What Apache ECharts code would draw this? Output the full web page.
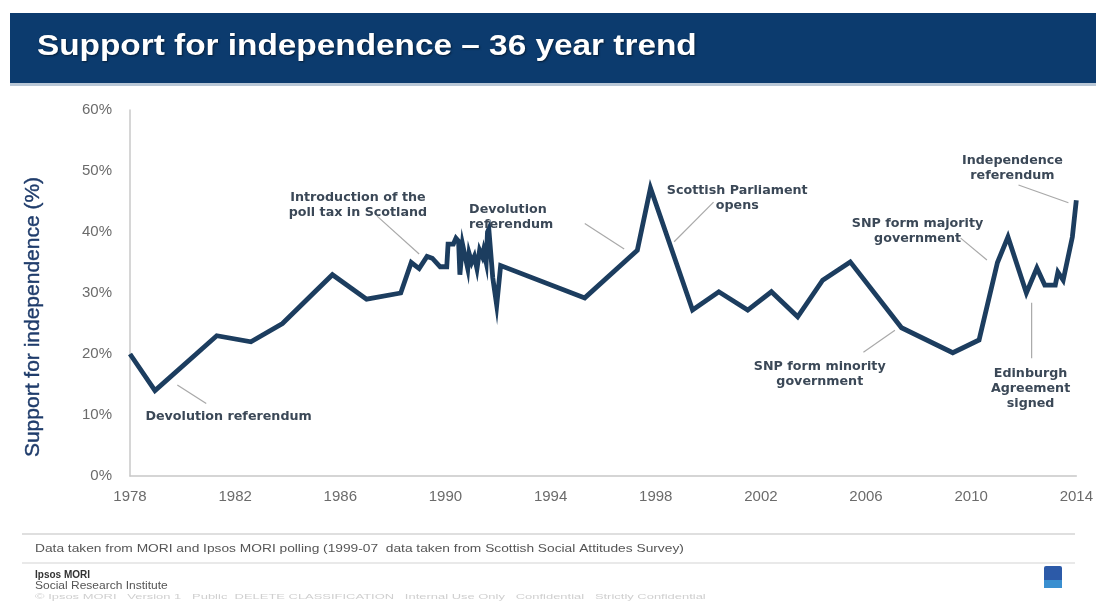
<!DOCTYPE html>
<html>
<head>
<meta charset="utf-8">
<script src="https://cdn.jsdelivr.net/npm/echarts@6/dist/echarts.min.js"></script>
<style>
html,body{margin:0;padding:0;background:#fff;}
#c{width:1096px;height:601px;}
</style>
</head>
<body>
<div id="c"></div>
<script>
// Survey year (decimal) and support for independence (%)
var years = [1978.0,1978.95,1981.3,1982.6,1983.8,1985.7,1987.0,1988.3,1988.7,1989.0,
  1989.3,1989.5,1989.8,1990.05,1990.1,1990.3,1990.4,1990.5,1990.55,1990.65,
  1990.75,1990.85,1990.9,1991.0,1991.1,1991.2,1991.3,1991.4,1991.45,1991.55,
  1991.6,1991.65,1991.8,1991.95,1992.1,1995.3,1997.3,1997.8,1999.4,2000.4,
  2001.5,2002.4,2003.4,2004.35,2005.4,2007.35,2009.3,2010.3,2011.0,2011.4,
  2012.1,2012.5,2012.8,2013.2,2013.3,2013.5,2013.85,2014.0];
var support = [20,14,23,22,25,33,29,30,35,34,
  36,35.7,34.3,34.3,38,38,39,38.5,33,38,
  36,34,36.5,35,36,34,37,36,37,35,
  40,40.5,32.5,28,34.5,29.2,37,47.2,27.2,30.2,
  27.2,30.2,26.1,32.1,35.1,24.3,20.2,22.3,35,39.2,
  30,34.1,31.3,31.3,33.4,32.1,39.2,45.2];
var xTicks = [1978,1982,1986,1990,1994,1998,2002,2006,2010,2014];
var yTicks = [0,10,20,30,40,50,60];

// Annotation texts: anchor in data coords
var annTexts = [
  {t:'Devolution referendum', at:[1981.75, 9.8], align:'center'},
  {t:'Introduction of the\npoll tax in Scotland', at:[1986.67, 44.4], align:'center'},
  {t:'Devolution\nreferendum', at:[1990.9, 42.4], align:'left'},
  {t:'Scottish Parliament\nopens', at:[2001.1, 45.6], align:'center'},
  {t:'SNP form majority\ngovernment', at:[2007.96, 40.1], align:'center'},
  {t:'Independence\nreferendum', at:[2011.57, 50.4], align:'center'},
  {t:'SNP form minority\ngovernment', at:[2004.24, 16.7], align:'center'},
  {t:'Edinburgh\nAgreement\nsigned', at:[2012.26, 14.3], align:'center'}
];
// Pointer lines from/to in data coords
var annLines = [
  [[1979.8,14.9],[1980.9,11.9]],
  [[1987.4,42.6],[1989.0,36.4]],
  [[1995.3,41.4],[1996.8,37.2]],
  [[2000.2,44.9],[1998.7,38.4]],
  [[2009.6,39.0],[2010.6,35.4]],
  [[2011.8,47.7],[2013.7,44.8]],
  [[2005.9,20.3],[2007.1,23.9]],
  [[2012.3,28.4],[2012.3,19.3]]
];

var data = years.map(function(y,i){return [y, support[i]];});
var chart = echarts.init(document.getElementById('c'));
var option = {
  animation:false,
  grid:{left:130, right:19, top:110, bottom:125},
  xAxis:{
    type:'value', min:1978, max:2014, interval:4,
    axisLine:{lineStyle:{color:'#c8c8c8', width:1.5}},
    axisTick:{show:false},
    splitLine:{show:false},
    axisLabel:{color:'#6b6b6b', fontSize:15, fontFamily:'Liberation Sans, Arial', margin:13,
      formatter:function(v){return xTicks.indexOf(v)>=0 ? String(v) : '';}}
  },
  yAxis:{
    type:'value', min:0, max:60, interval:10,
    axisLine:{show:true, lineStyle:{color:'#c8c8c8', width:1.5}},
    axisTick:{show:false},
    splitLine:{show:false},
    axisLabel:{color:'#6b6b6b', fontSize:15, fontFamily:'Liberation Sans, Arial', margin:18,
      formatter:function(v){return yTicks.indexOf(v)>=0 ? v+'%' : '';}}
  },
  series:[{
    type:'line', data:data, symbol:'none',
    lineStyle:{color:'#1c3d5f', width:4.8, join:'miter'},
    z:3
  }],
  graphic:[]
};
chart.setOption(option);

var g = [];
// title band
g.push({type:'rect', shape:{x:10,y:82,width:1086,height:4}, style:{fill:'#b9c7d6'}, silent:true});
g.push({type:'rect', shape:{x:10,y:13,width:1086,height:70}, style:{fill:'#0c3b6e'}, silent:true});
g.push({type:'text', x:37, y:47, scaleX:1.15, originX:0, originY:0, style:{text:'Support for independence \u2013 36 year trend',
  fill:'#ffffff', font:'bold 29px "Liberation Sans", Arial', textVerticalAlign:'middle',
  textShadowColor:'rgba(0,0,0,0.5)', textShadowBlur:2, textShadowOffsetX:1, textShadowOffsetY:1}});
// y axis title
g.push({type:'text', x:33, y:317, rotation:Math.PI/2, style:{text:'Support for independence (%)',
  fill:'#1f3c6b', font:'21px "Liberation Sans", Arial', textAlign:'center', textVerticalAlign:'middle',
  stroke:'#1f3c6b', lineWidth:0.4}});
// annotations
annLines.forEach(function(l){
  var p1 = chart.convertToPixel({gridIndex:0}, l[0]);
  var p2 = chart.convertToPixel({gridIndex:0}, l[1]);
  g.push({type:'line', shape:{x1:p1[0],y1:p1[1],x2:p2[0],y2:p2[1]}, style:{stroke:'#a9a9a9', lineWidth:1.2}, z:2});
});
annTexts.forEach(function(a){
  var p = chart.convertToPixel({gridIndex:0}, a.at);
  g.push({type:'text', x:p[0], y:p[1], z:4, style:{text:a.t, fill:'#3b4857',
    font:'bold 12.7px "DejaVu Sans", Verdana', textAlign:a.align, textVerticalAlign:'middle', lineHeight:15}});
});
// footer
g.push({type:'line', shape:{x1:22,y1:534,x2:1075,y2:534}, style:{stroke:'#d4d4d4', lineWidth:1.5}});
g.push({type:'text', x:35, y:549, scaleX:1.25, originX:0, originY:0, style:{text:'Data taken from MORI and Ipsos MORI polling (1999-07  data taken from Scottish Social Attitudes Survey)',
  fill:'#555', font:'11px "Liberation Sans", Arial', textVerticalAlign:'middle'}});
g.push({type:'line', shape:{x1:22,y1:563,x2:1075,y2:563}, style:{stroke:'#e2e2e2', lineWidth:1.5}});
g.push({type:'text', x:35, y:575, style:{text:'Ipsos MORI', fill:'#333', font:'bold 10px "Liberation Sans", Arial', textVerticalAlign:'middle'}});
g.push({type:'text', x:35, y:586, scaleX:1.2, originX:0, originY:0, style:{text:'Social Research Institute', fill:'#555', font:'10px "Liberation Sans", Arial', textVerticalAlign:'middle'}});
g.push({type:'text', x:35, y:597, scaleX:1.85, originX:0, originY:0, style:{text:'\u00a9 Ipsos MORI   Version 1   Public  DELETE CLASSIFICATION   Internal Use Only   Confidential   Strictly Confidential',
  fill:'#cfcfcf', font:'7px "Liberation Sans", Arial', textVerticalAlign:'middle'}});
g.push({type:'rect', shape:{x:1044,y:566,width:18,height:22, r:2}, style:{fill:'#2c5aa8'}});
g.push({type:'rect', shape:{x:1044,y:580,width:18,height:8}, style:{fill:'#3a8fd0'}});
chart.setOption({graphic:g});
</script>
</body>
</html>
